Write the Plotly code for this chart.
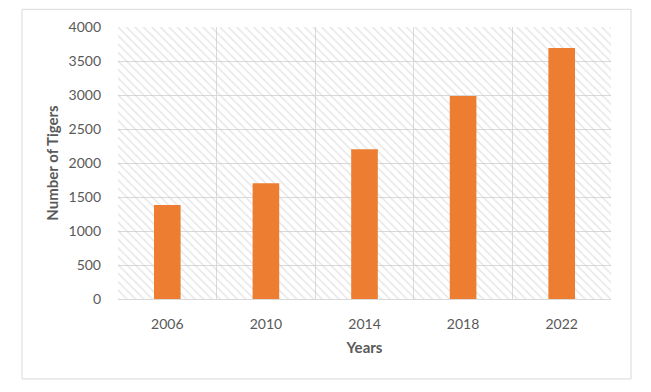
import plotly.graph_objects as go

years = ["2006", "2010", "2014", "2018", "2022"]
tigers = [1383, 1701, 2201, 2985, 3693]
y_max = 4000
y_step = 500

fig = go.Figure()

# hatched plot-area background, one full-width tile per category
fig.add_trace(go.Bar(
    x=years, y=[y_max] * len(years), width=1,
    marker=dict(color="rgba(0,0,0,0)", line=dict(width=0),
                pattern=dict(shape="\\", fgcolor="#cdcdcd", bgcolor="rgba(0,0,0,0)",
                             size=6, solidity=0.25)),
    hoverinfo="skip", showlegend=False,
))

fig.add_trace(go.Bar(
    x=years, y=tigers, width=0.27,
    marker=dict(color="#ED7D31", line=dict(width=0)),
    showlegend=False, name="Number of Tigers",
))

font_col = "#595959"
fig.update_layout(
    width=643, height=384,
    margin=dict(l=110, r=40, t=19, b=93),
    paper_bgcolor="white", plot_bgcolor="white",
    barmode="overlay",
    font=dict(family="Lato, Carlito, Calibri, sans-serif", color=font_col, size=14),
    xaxis=dict(type="category", tickson="boundaries", showgrid=True, gridcolor="#d9d9d9",
               gridwidth=1, ticks="", showline=True, linecolor="#d9d9d9", linewidth=1,
               mirror=False, ticklabelstandoff=12, automargin=False,
               tickfont=dict(size=14, color=font_col),
               title=dict(text="<b>Years</b>", font=dict(size=15, color=font_col), standoff=11)),
    yaxis=dict(range=[0, y_max], dtick=y_step, showgrid=True, gridcolor="#d9d9d9",
               gridwidth=1, zeroline=False, ticks="", showline=False, automargin=False,
               ticklabelstandoff=16, tickfont=dict(size=14, color=font_col),
               title=dict(text="<b>Number of Tigers</b>", font=dict(size=15, color=font_col),
                          standoff=6)),
    shapes=[dict(type="rect", xref="paper", yref="paper",
                 x0=-0.1947, x1=1.0406, y0=-0.294, y1=1.065,
                 line=dict(color="#d9d9d9", width=1), fillcolor="rgba(0,0,0,0)",
                 layer="below")],
)

fig.write_html("out.html")
